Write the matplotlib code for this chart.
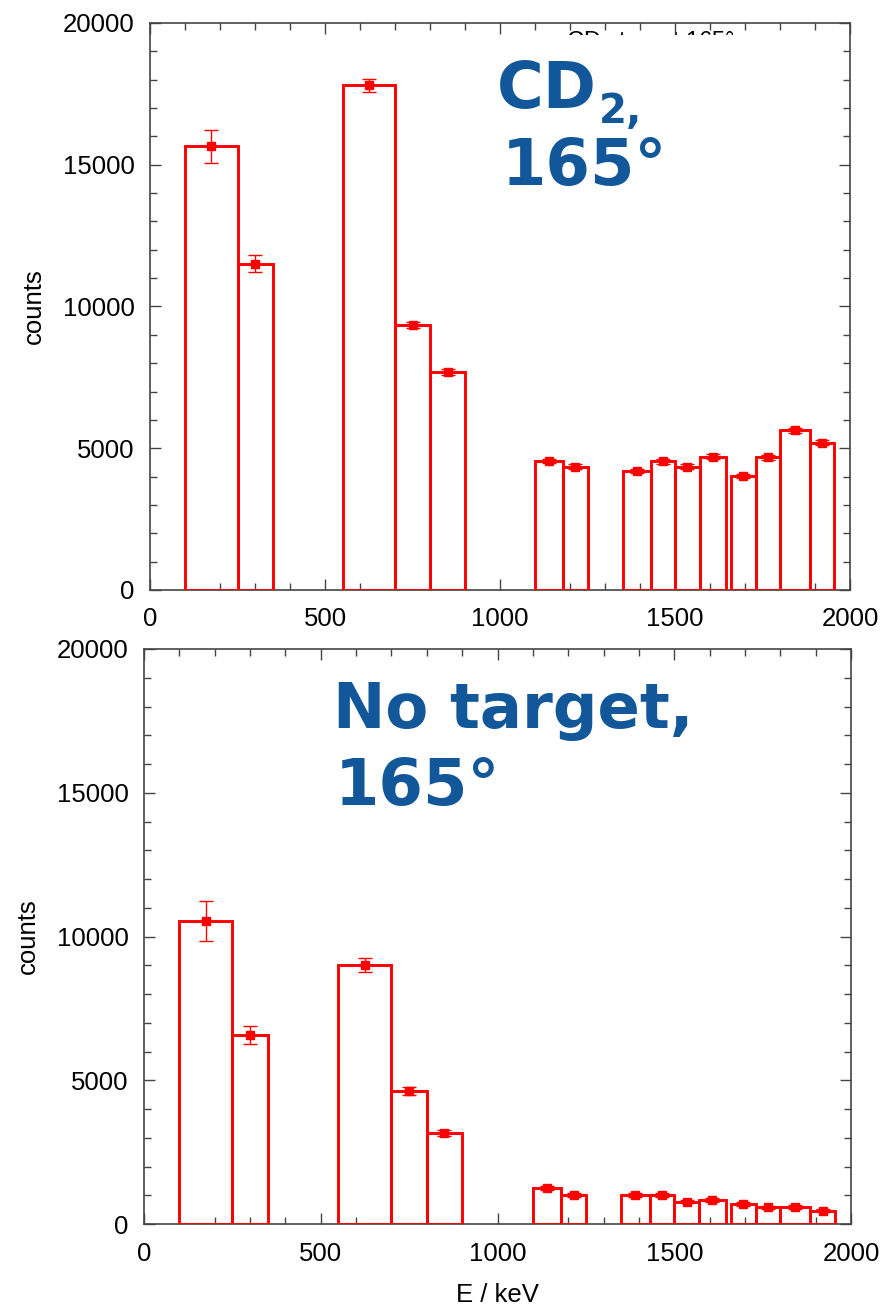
import numpy as np
import matplotlib
matplotlib.use("Agg")
import matplotlib.pyplot as plt
from matplotlib.ticker import MultipleLocator
from matplotlib.patches import Rectangle

# ---- data ----
bin_lo = np.array([100, 250, 550, 700, 800, 1100, 1180, 1350, 1430, 1500, 1570, 1660, 1730, 1800, 1885])
bin_hi = np.array([250, 350, 700, 800, 900, 1180, 1250, 1430, 1500, 1570, 1645, 1730, 1800, 1885, 1955])

cd2_counts = np.array([15650, 11500, 17800, 9350, 7680, 4550, 4350, 4200, 4540, 4350, 4700, 4020, 4680, 5630, 5200])
cd2_errs = np.array([580, 300, 220, 120, 100, 80, 80, 80, 80, 80, 80, 80, 80, 80, 80])

notarget_counts = np.array([10550, 6570, 9000, 4630, 3175, 1250, 1010, 1020, 1020, 780, 840, 700, 580, 590, 465])
notarget_errs = np.array([690, 320, 240, 130, 100, 80, 70, 70, 70, 60, 60, 60, 60, 60, 60])

xticks = [0, 500, 1000, 1500, 2000]
yticks = [0, 5000, 10000, 15000, 20000]

plt.rcParams['font.family'] = ['Liberation Sans', 'DejaVu Sans']
BLUE = '#11579A'
AXC = '#444444'

fig = plt.figure(figsize=(8.89, 13.06), dpi=100)
W, H = 889, 1306
ax1 = fig.add_axes([150 / W, 1 - 590 / H, 700 / W, 567 / H])
ax2 = fig.add_axes([144 / W, 1 - 1224 / H, 707 / W, 575 / H])


def draw(ax, counts, errs, xlabel_pad):
    ax.bar(bin_lo, counts, width=bin_hi - bin_lo, align='edge', fill=False,
           edgecolor='red', linewidth=2.1, zorder=3)
    centers = (bin_lo + bin_hi) / 2
    ax.errorbar(centers, counts, yerr=errs, fmt='s', color='red', ms=6,
                capsize=5, elinewidth=1.0, capthick=1.0, zorder=4)
    ax.set_xlim(0, 2000)
    ax.set_ylim(0, 20000)
    ax.set_xticks(xticks)
    ax.set_yticks(yticks)
    ax.xaxis.set_minor_locator(MultipleLocator(100))
    ax.yaxis.set_minor_locator(MultipleLocator(1000))
    ax.tick_params(which='both', direction='in', top=True, right=True,
                   color=AXC, width=1.0, labelsize=18.5)
    ax.tick_params(which='major', length=8)
    ax.tick_params(which='minor', length=5)
    ax.tick_params(axis='y', pad=11)
    ax.tick_params(axis='x', pad=xlabel_pad)
    for s in ax.spines.values():
        s.set_color(AXC)
        s.set_linewidth(1.2)
    ax.set_ylabel('counts', fontsize=18.5, labelpad=12)


draw(ax1, cd2_counts, cd2_errs, 12)
draw(ax2, notarget_counts, notarget_errs, 13)
ax2.set_xlabel('E / keV', fontsize=18.5, labelpad=12)

# partially hidden original title in top panel
ax1.text(0.714, (590 - 29) / 567, 'CD$_2$ target 165°', transform=ax1.transAxes, ha='center',
         va='top', fontsize=17, color='black', zorder=1)
ax1.add_patch(Rectangle((0.45, 0.62), 0.5, (590 - 35) / 567 - 0.62, transform=ax1.transAxes,
                        facecolor='white', edgecolor='none', zorder=2))

# big annotations
big = dict(color=BLUE, fontweight='bold', family='DejaVu Sans', zorder=5)
ax1.text(0.496, 0.850, 'CD', transform=ax1.transAxes, ha='left', va='baseline', fontsize=46, **big)
ax1.text(0.641, 0.823, '2,', transform=ax1.transAxes, ha='left', va='baseline', fontsize=29, **big)
ax1.text(0.503, 0.714, '165°', transform=ax1.transAxes, ha='left', va='baseline', fontsize=46, **big)

ax2.text(0.267, 0.863, 'No target,', transform=ax2.transAxes, ha='left', va='baseline', fontsize=45, **big)
ax2.text(0.270, 0.729, '165°', transform=ax2.transAxes, ha='left', va='baseline', fontsize=46, **big)

fig.savefig('out.png', dpi=100, facecolor='white')
